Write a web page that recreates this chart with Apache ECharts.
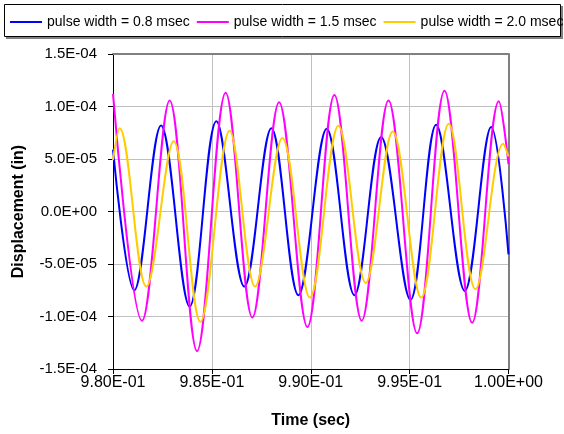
<!DOCTYPE html>
<html>
<head>
<meta charset="utf-8">
<script src="https://cdn.jsdelivr.net/npm/echarts@6/dist/echarts.min.js"></script>
<style>
html,body{margin:0;padding:0;background:#fff;}
#chart{width:564px;height:434px;}
</style>
</head>
<body>
<div id="chart"></div>
<script>
// ---- Data (time in seconds, displacement in inches): start, peaks/troughs, end ----
const seriesNames = ['pulse width = 0.8 msec', 'pulse width = 1.5 msec', 'pulse width = 2.0 msec'];

const timeA = [0.980000, 0.981078, 0.982429, 0.983876, 0.985226, 0.986643, 0.988009, 0.989375,
  0.990807, 0.992208, 0.993559, 0.995042, 0.996342, 0.997789, 0.999125, 1.000000];
const dispA = [5.9e-5, -7.5e-5, 8.2e-5, -9.05e-5, 8.6e-5, -7.15e-5, 7.94e-5, -7.97e-5,
  7.88e-5, -7.97e-5, 7.1e-5, -8.4e-5, 8.26e-5, -7.56e-5, 8.04e-5, -4.08e-5];

const timeB = [0.980000, 0.981467, 0.982864, 0.984250, 0.985697, 0.987048, 0.988399, 0.989831,
  0.991196, 0.992578, 0.993929, 0.995380, 0.996762, 0.998163, 0.999509, 1.000000];
const dispB = [11.2e-5, -10.4e-5, 10.57e-5, -13.3e-5, 11.3e-5, -10.1e-5, 10.4e-5, -11.0e-5,
  11.1e-5, -10.4e-5, 10.57e-5, -11.6e-5, 11.5e-5, -10.6e-5, 10.5e-5, 4.5e-5];

const timeC = [0.980000, 0.980334, 0.981685, 0.983066, 0.984417, 0.985899, 0.987184, 0.988566,
  0.989957, 0.991399, 0.992780, 0.994146, 0.995583, 0.996979, 0.998330, 0.999732, 1.000000];
const dispC = [4.9e-5, 7.94e-5, -7.15e-5, 6.68e-5, -10.5e-5, 7.7e-5, -7.15e-5, 7.0e-5,
  -8.2e-5, 8.16e-5, -6.8e-5, 7.63e-5, -8.2e-5, 8.35e-5, -7.4e-5, 6.46e-5, 5.25e-5];

const xMin = 0.98, xMax = 1.0, xStep = 0.005;
const yMin = -1.5e-4, yMax = 1.5e-4, yStep = 5e-5;
const colors = ['#0000FF', '#FF00FF', '#FFCC00'];

function sci(v, d) {
  if (Math.abs(v) < 1e-12) v = 0;
  const s = v.toExponential(d);
  const parts = s.split('e');
  const ex = parseInt(parts[1], 10);
  const sign = ex < 0 ? '-' : '+';
  const n = Math.abs(ex);
  return parts[0] + 'E' + sign + (n < 10 ? '0' : '') + n;
}
function zip(t, v) { return t.map((x, i) => [x, v[i]]); }

const FONT = 'Arial, "Liberation Sans", sans-serif';
const chart = echarts.init(document.getElementById('chart'), null, {renderer: 'canvas'});

const SMOOTH = 0.36;
const option = {
  backgroundColor: '#ffffff',
  animation: false,
  textStyle: {fontFamily: FONT, color: '#000'},
  graphic: [
    {type: 'rect', z: -2, shape: {x: 6, y: 6, width: 557, height: 33}, style: {fill: '#808080'}},
    {type: 'rect', z: -1, shape: {x: 4.5, y: 4.5, width: 556, height: 32}, style: {fill: '#fff', stroke: '#000', lineWidth: 1}}
  ],
  legend: {
    left: 10, top: 15, width: 560,
    icon: 'rect', itemWidth: 32, itemHeight: 2, itemGap: 7,
    padding: 0,
    textStyle: {fontFamily: FONT, fontSize: 14, color: '#000'},
    data: seriesNames
  },
  grid: {left: 113, top: 54, right: 55.5, bottom: 64, containLabel: false},
  xAxis: [{
    type: 'value', min: xMin, max: xMax, interval: xStep,
    name: 'Time (sec)', nameLocation: 'middle', nameGap: 44,
    nameTextStyle: {fontFamily: FONT, fontSize: 16, fontWeight: 'bold', color: '#000'},
    axisLine: {show: true, onZero: false, lineStyle: {color: '#000', width: 1}},
    axisTick: {show: true, inside: false, length: 5, lineStyle: {color: '#000'}},
    axisLabel: {fontFamily: FONT, fontSize: 16, color: '#000', margin: 6, formatter: v => sci(v, 2)},
    splitLine: {show: true, lineStyle: {color: '#c0c0c0', width: 1}}
  }, {
    type: 'value', position: 'top', min: xMin, max: xMax, interval: xStep,
    axisLine: {show: true, onZero: false, lineStyle: {color: '#808080', width: 2}},
    axisTick: {show: false}, axisLabel: {show: false}, splitLine: {show: false}
  }],
  yAxis: [{
    type: 'value', min: yMin, max: yMax, interval: yStep,
    name: 'Displacement (in)', nameLocation: 'middle', nameGap: 86, nameRotate: 90,
    nameTextStyle: {fontFamily: FONT, fontSize: 16, fontWeight: 'bold', color: '#000'},
    axisLine: {show: true, onZero: false, lineStyle: {color: '#000', width: 1}},
    axisTick: {show: true, inside: false, length: 5, lineStyle: {color: '#000'}},
    axisLabel: {fontFamily: FONT, fontSize: 15, color: '#000', margin: 16, formatter: v => sci(v, 1)},
    splitLine: {show: true, lineStyle: {color: '#c0c0c0', width: 1}}
  }, {
    type: 'value', position: 'right', min: yMin, max: yMax, interval: yStep,
    axisLine: {show: true, onZero: false, lineStyle: {color: '#808080', width: 2}},
    axisTick: {show: false}, axisLabel: {show: false}, splitLine: {show: false}
  }],
  series: [
    {name: seriesNames[0], type: 'line', data: zip(timeA, dispA), smooth: SMOOTH, symbol: 'none',
     lineStyle: {color: colors[0], width: 2}, itemStyle: {color: colors[0]}},
    {name: seriesNames[1], type: 'line', data: zip(timeB, dispB), smooth: SMOOTH, symbol: 'none',
     lineStyle: {color: colors[1], width: 2}, itemStyle: {color: colors[1]}},
    {name: seriesNames[2], type: 'line', data: zip(timeC, dispC), smooth: SMOOTH, symbol: 'none',
     lineStyle: {color: colors[2], width: 2}, itemStyle: {color: colors[2]}}
  ]
};
chart.setOption(option);
</script>
</body>
</html>
